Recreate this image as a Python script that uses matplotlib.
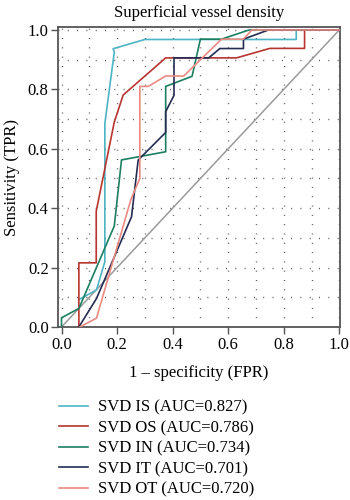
import matplotlib
matplotlib.use("Agg")
import matplotlib.pyplot as plt
from matplotlib.ticker import MultipleLocator

plt.rcParams['font.family'] = ['Liberation Serif', 'DejaVu Serif']

labels = ["SVD IS (AUC=0.827)", "SVD OS (AUC=0.786)", "SVD IN (AUC=0.734)",
          "SVD IT (AUC=0.701)", "SVD OT (AUC=0.720)"]
colors = ["#4cb4c4", "#b8342f", "#1b7f62", "#252c52", "#ea8a82"]

is_fpr = [0.066, 0.126, 0.156, 0.156, 0.19, 0.186, 0.30, 0.845, 0.845, 1.0]
is_tpr = [0.094, 0.125, 0.22, 0.685, 0.925, 0.937, 0.968, 0.968, 1.0, 1.0]

os_fpr = [0.0625, 0.0625, 0.125, 0.125, 0.19, 0.222, 0.375, 0.63, 0.75, 0.875, 0.875, 1.0]
os_tpr = [0.0, 0.216, 0.216, 0.39, 0.69, 0.781, 0.906, 0.906, 0.938, 0.938, 1.0, 1.0]

in_fpr = [0.0, 0.0, 0.0625, 0.19, 0.216, 0.375, 0.375, 0.47, 0.5, 0.576, 0.675, 1.0]
in_tpr = [0.0, 0.031, 0.0625, 0.34, 0.5625, 0.59, 0.81, 0.844, 0.969, 0.969, 1.0, 1.0]

it_fpr = [0.0625, 0.126, 0.252, 0.276, 0.375, 0.375, 0.405, 0.405, 0.53, 0.57, 0.655, 0.655, 0.745, 1.0]
it_tpr = [0.0, 0.096, 0.371, 0.562, 0.655, 0.725, 0.78, 0.906, 0.906, 0.9375, 0.9375, 0.969, 1.0, 1.0]

ot_fpr = [0.066, 0.126, 0.25, 0.282, 0.282, 0.3125, 0.375, 0.44, 0.576, 0.655, 0.685, 1.0]
ot_tpr = [0.0, 0.03, 0.43, 0.5, 0.81, 0.81, 0.845, 0.845, 0.969, 0.969, 1.0, 1.0]

fprs = [is_fpr, os_fpr, in_fpr, it_fpr, ot_fpr]
tprs = [is_tpr, os_tpr, in_tpr, it_tpr, ot_tpr]

fig = plt.figure(figsize=(3.5, 5.0), dpi=100)
ax = fig.add_axes([0.167, 0.346, 0.804, 0.6])

ax.plot([0, 1], [0, 1], color="#9a9a9a", lw=1.1, zorder=2)
for f, t, c, l in zip(fprs, tprs, colors, labels):
    ax.plot(f, t, color=c, lw=1.2, label=l, zorder=3)

ax.set_xlim(-0.011, 1.002)
ax.set_ylim(0.0, 1.01)
ax.xaxis.set_major_locator(MultipleLocator(0.2))
ax.yaxis.set_major_locator(MultipleLocator(0.2))
ax.xaxis.set_minor_locator(MultipleLocator(0.1))
ax.yaxis.set_minor_locator(MultipleLocator(0.1))
ax.xaxis.set_major_formatter(plt.FuncFormatter(lambda v, p: f"{v:.1f}"))
ax.yaxis.set_major_formatter(plt.FuncFormatter(lambda v, p: f"{v:.1f}"))
ax.grid(which="both", color="#555555", lw=1.0, linestyle=(0, (0.7, 6.0)), zorder=1)
ax.tick_params(which="major", direction="out", length=5, width=1, color="#555555",
               labelsize=12, pad=2)
ax.tick_params(which="minor", length=0)
for s in ax.spines.values():
    s.set_color("#555555")
    s.set_linewidth(1.3)

ax.set_title("Superficial vessel density", fontsize=12, pad=7)
ax.set_xlabel("1 \u2013 specificity (FPR)", fontsize=12, labelpad=9)
ax.set_ylabel("Sensitivity (TPR)", fontsize=12, labelpad=6)

leg = ax.legend(loc="upper left", bbox_to_anchor=(-0.021, -0.22), frameon=False,
                fontsize=12, handlelength=1.7, handletextpad=0.64, labelspacing=0.27,
                borderaxespad=0)

fig.savefig("out.png", dpi=100)
